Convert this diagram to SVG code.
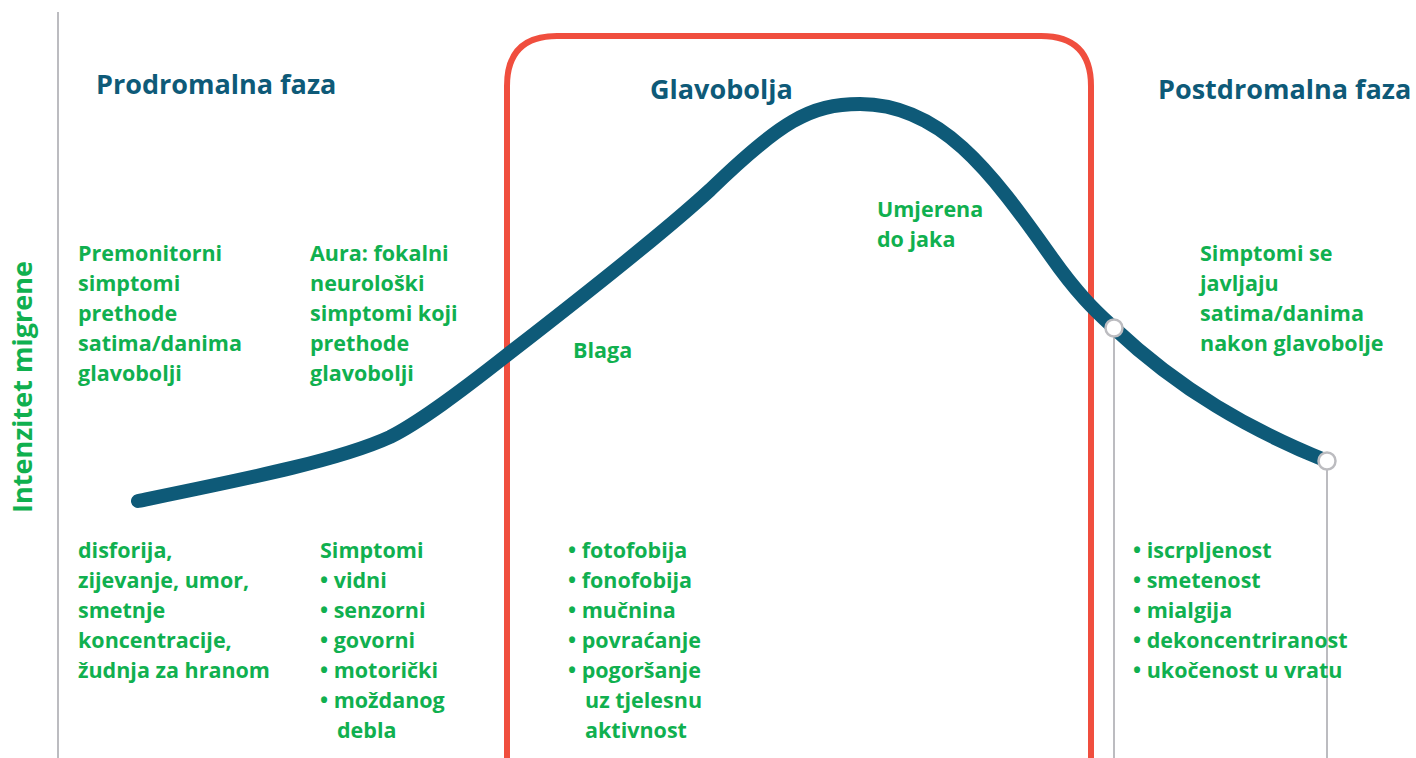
<svg xmlns="http://www.w3.org/2000/svg" width="1416" height="758" viewBox="0 0 1416 758">
<style>
.h{font-family:"Open Sans","Noto Sans",sans-serif;font-weight:700;font-size:27px;fill:#0e5a78}
.g{font-family:"Open Sans","Noto Sans",sans-serif;font-weight:700;font-size:21.5px;fill:#10b04f}
.ax{font-family:"Open Sans","Noto Sans",sans-serif;font-weight:700;font-size:27px;fill:#10b04f}
.guide{stroke:#bcbcc0;stroke-width:2;fill:none}
</style>
<rect width="1416" height="758" fill="#ffffff"/>
<g id="axis">
<line class="guide" x1="58" y1="12" x2="58" y2="758"/>
<text class="ax" transform="translate(32,387) rotate(-90)" text-anchor="middle">Intenzitet migrene</text>
</g>
<g id="headache-frame">
<path d="M507,760 V86 Q507,36 557,36 H1041 Q1091,36 1091,86 V760" fill="none" stroke="#f04e3e" stroke-width="6"/>
</g>
<g id="connectors">
<line class="guide" x1="1114" y1="328" x2="1114" y2="758"/>
<line class="guide" x1="1327" y1="461" x2="1327" y2="758"/>
<path d="M138,501 C250,478 340,460 390,437 C420,422 460,392 507,355 C560,314 660,236 710,190 C780,122 810,104 860,104 C940,104 990,170 1050,255 C1080,298 1100,315 1114,328 C1180,390 1250,430 1327,461" fill="none" stroke="#0e5a78" stroke-width="14" stroke-linecap="round"/>
<circle cx="1114" cy="328" r="8.5" fill="#ffffff" stroke="#bcbcc0" stroke-width="2.5"/>
<circle cx="1327" cy="461" r="8.5" fill="#ffffff" stroke="#bcbcc0" stroke-width="2.5"/>
</g>
<g id="prodromal">
<text class="h" x="96" y="94">Prodromalna faza</text>
<text class="g" x="78" y="261"><tspan x="78">Premonitorni</tspan><tspan x="78" dy="30">simptomi</tspan><tspan x="78" dy="30">prethode</tspan><tspan x="78" dy="30">satima/danima</tspan><tspan x="78" dy="30">glavobolji</tspan></text>
<text class="g" x="310" y="261"><tspan x="310">Aura: fokalni</tspan><tspan x="310" dy="30">neurološki</tspan><tspan x="310" dy="30">simptomi koji</tspan><tspan x="310" dy="30">prethode</tspan><tspan x="310" dy="30">glavobolji</tspan></text>
<text class="g" x="78" y="558"><tspan x="78">disforija,</tspan><tspan x="78" dy="30">zijevanje, umor,</tspan><tspan x="78" dy="30">smetnje</tspan><tspan x="78" dy="30">koncentracije,</tspan><tspan x="78" dy="30">žudnja za hranom</tspan></text>
<text class="g" x="320" y="558"><tspan x="320">Simptomi</tspan><tspan x="320" dy="30">• vidni</tspan><tspan x="320" dy="30">• senzorni</tspan><tspan x="320" dy="30">• govorni</tspan><tspan x="320" dy="30">• motorički</tspan><tspan x="320" dy="30">• moždanog</tspan><tspan x="337" dy="30">debla</tspan></text>
</g>
<g id="headache">
<text class="h" x="650" y="99">Glavobolja</text>
<text class="g" x="573" y="358">Blaga</text>
<text class="g" x="877" y="217"><tspan x="877">Umjerena</tspan><tspan x="877" dy="30">do jaka</tspan></text>
<text class="g" x="568" y="558"><tspan x="568">• fotofobija</tspan><tspan x="568" dy="30">• fonofobija</tspan><tspan x="568" dy="30">• mučnina</tspan><tspan x="568" dy="30">• povraćanje</tspan><tspan x="568" dy="30">• pogoršanje</tspan><tspan x="585" dy="30">uz tjelesnu</tspan><tspan x="585" dy="30">aktivnost</tspan></text>
</g>
<g id="postdromal">
<text class="h" x="1158" y="99">Postdromalna faza</text>
<text class="g" x="1200" y="261"><tspan x="1200">Simptomi se</tspan><tspan x="1200" dy="30">javljaju</tspan><tspan x="1200" dy="30">satima/danima</tspan><tspan x="1200" dy="30">nakon glavobolje</tspan></text>
<text class="g" x="1133" y="558"><tspan x="1133">• iscrpljenost</tspan><tspan x="1133" dy="30">• smetenost</tspan><tspan x="1133" dy="30">• mialgija</tspan><tspan x="1133" dy="30">• dekoncentriranost</tspan><tspan x="1133" dy="30">• ukočenost u vratu</tspan></text>
</g>
</svg>
